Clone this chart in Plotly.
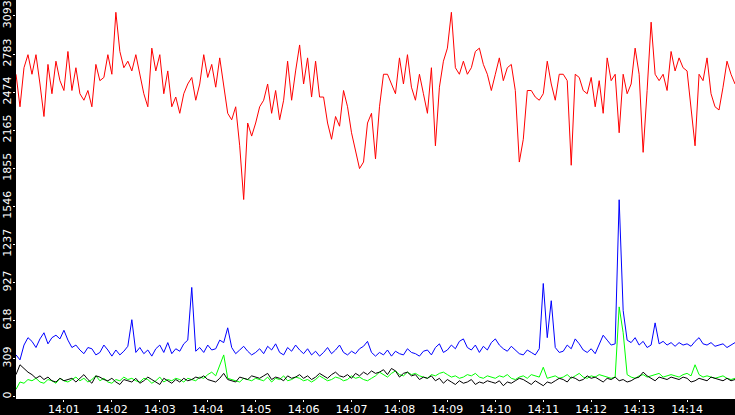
import pandas as pd
import plotly.graph_objects as go

start = "2024-01-01 14:00:00"

red = [2619, 2355, 2672, 2778, 2619, 2778, 2540, 2276, 2699, 2461, 2725, 2567, 2487, 2804, 2487,
       2672, 2461, 2408, 2487, 2355, 2699, 2567, 2593, 2778, 2619, 3122, 2804, 2672, 2725, 2646,
       2778, 2619, 2461, 2355, 2831, 2646, 2778, 2461, 2646, 2355, 2434, 2302, 2461, 2540, 2593,
       2408, 2540, 2778, 2593, 2699, 2514, 2752, 2514, 2302, 2249, 2355, 2038, 1602, 2223, 2117,
       2223, 2355, 2408, 2540, 2302, 2487, 2249, 2408, 2725, 2408, 2646, 2857, 2540, 2752, 2434,
       2725, 2434, 2434, 2223, 2091, 2276, 2197, 2487, 2355, 2144, 1985, 1853, 1906, 2223, 2302,
       1932, 2355, 2619, 2619, 2540, 2461, 2752, 2540, 2778, 2514, 2408, 2619, 2461, 2302, 2672,
       2038, 2514, 2725, 2831, 3122, 2672, 2619, 2725, 2619, 2672, 2804, 2831, 2699, 2619, 2487,
       2619, 2752, 2567, 2672, 2699, 2487, 1906, 2091, 2487, 2487, 2434, 2408, 2461, 2725, 2540,
       2408, 2619, 2619, 2567, 1880, 2619, 2593, 2487, 2461, 2593, 2355, 2567, 2302, 2752, 2567,
       2619, 2144, 2619, 2461, 2540, 2831, 2619, 1985, 2487, 3042, 2619, 2567, 2619, 2487, 2804,
       2646, 2752, 2672, 2646, 2355, 2038, 2619, 2567, 2752, 2461, 2355, 2329, 2514, 2725, 2619, 2540]

blue = [340, 300, 420, 480, 450, 400, 470, 520, 430, 480, 500, 470, 540, 460, 400,
        420, 380, 350, 400, 390, 340, 360, 420, 380, 330, 380, 340, 370, 410, 626,
        360, 400, 350, 380, 330, 390, 420, 360, 440, 350, 390, 370, 430, 460, 888,
        370, 400, 360, 420, 380, 390, 460, 440, 560, 400, 350, 380, 410, 370, 340,
        360, 390, 350, 410, 380, 430, 360, 340, 400, 370, 420, 380, 350, 390, 340,
        370, 330, 360, 400, 350, 380, 420, 360, 340, 370, 350, 390, 410, 450, 360,
        330, 360, 340, 380, 330, 370, 350, 340, 390, 360, 350, 330, 370, 380, 340,
        400, 430, 360, 380, 420, 390, 450, 470, 400, 380, 420, 360, 410, 380, 440,
        470, 420, 390, 370, 410, 380, 350, 340, 380, 360, 340, 390, 920, 480, 780,
        400, 360, 370, 420, 390, 470, 430, 380, 360, 390, 350, 420, 500, 460, 420,
        430, 1600, 700, 460, 440, 480, 420, 450, 400, 420, 600, 430, 450, 420, 440,
        410, 440, 420, 430, 410, 450, 480, 430, 420, 440, 410, 420, 430, 400, 420, 440]

green = [60, 120, 110, 140, 130, 150, 120, 110, 140, 130, 110, 150, 130, 120, 140,
         160, 130, 150, 120, 140, 170, 130, 150, 120, 110, 140, 130, 160, 140, 150,
         130, 120, 150, 140, 110, 130, 160, 120, 140, 130, 150, 140, 120, 150, 140,
         130, 160, 150, 180, 200, 170, 260, 340, 150, 140, 130, 120, 150, 140, 130,
         150, 140, 130, 160, 120, 150, 140, 170, 130, 140, 160, 150, 130, 140, 120,
         140, 170, 150, 130, 140, 160, 150, 130, 140, 170, 150, 160, 140, 130, 150,
         170, 200, 180, 160, 190, 210, 180, 170, 200, 180, 190, 170, 160, 150, 180,
         170, 190, 200, 180, 160, 170, 150, 160, 180, 170, 190, 160, 150, 170, 160,
         150, 170, 160, 180, 150, 140, 160, 170, 150, 180, 170, 160, 240, 150, 160,
         170, 150, 160, 180, 150, 170, 190, 160, 150, 170, 160, 180, 170, 160, 150,
         160, 730, 520, 180, 160, 150, 170, 180, 160, 170, 180, 190, 160, 170, 180,
         170, 160, 180, 190, 170, 260, 180, 160, 170, 160, 150, 160, 170, 150, 140, 150]

black = [180, 260, 230, 200, 180, 150, 170, 140, 160, 130, 120, 150, 130, 140, 150,
         120, 150, 180, 140, 110, 170, 160, 140, 130, 150, 120, 100, 140, 130, 120,
         150, 110, 130, 160, 140, 120, 100, 150, 130, 110, 140, 120, 150, 130, 140,
         160, 150, 170, 140, 130, 120, 150, 190, 140, 130, 120, 160, 150, 140, 170,
         160, 150, 170, 190, 140, 160, 150, 130, 170, 150, 160, 180, 150, 170, 140,
         160, 190, 170, 150, 180, 200, 170, 160, 180, 150, 190, 170, 200, 180, 210,
         190, 200, 220, 180, 230, 210, 160, 190, 200, 170, 180, 140, 160, 150, 170,
         130, 150, 110, 140, 120, 100, 130, 110, 120, 140, 100, 120, 110, 130, 120,
         110, 130, 90, 120, 110, 130, 150, 140, 120, 100, 130, 110, 90, 120, 110,
         130, 150, 140, 120, 160, 150, 130, 140, 170, 150, 160, 140, 120, 150, 140,
         160, 130, 140, 120, 130, 150, 160, 200, 170, 150, 130, 160, 150, 140, 160,
         150, 140, 160, 150, 120, 130, 150, 140, 130, 160, 150, 140, 130, 150, 130, 140]

y_ticks = [0, 309, 618, 927, 1237, 1546, 1855, 2165, 2474, 2783, 3093]
x_ticks = [f"2024-01-01 14:{m:02d}:00" for m in range(1, 15)]

times = pd.date_range(start, periods=len(red), freq="5s")

fig = go.Figure()
for vals, color in [(red, "#ff0000"), (blue, "#0000ff"), (green, "#00ff00"), (black, "#000000")]:
    fig.add_trace(go.Scatter(x=times, y=vals, mode="lines",
                             line=dict(color=color, width=1), hoverinfo="skip"))

fig.update_layout(
    width=735, height=415,
    margin=dict(l=16, r=0, t=0, b=16),
    paper_bgcolor="black", plot_bgcolor="white",
    showlegend=False,
    font=dict(family="DejaVu Sans", size=11, color="white"),
)
fig.update_xaxes(range=[times[0], times[-1]], tickvals=x_ticks, tickformat="%H:%M",
                 showgrid=False, zeroline=False, ticks="outside", tickcolor="white",
                 ticklen=2, tickangle=0, automargin=False, ticklabelstandoff=-2)
fig.update_yaxes(range=[-18, 3222], tickvals=y_ticks, tickangle=-90,
                 showgrid=False, zeroline=False, ticks="outside", tickcolor="white",
                 ticklen=2, automargin=False, ticklabelstandoff=-2,
                 ticklabeloverflow="allow")
fig.write_html("out.html", config={"displayModeBar": False},
               post_script="document.body.style.margin='0';document.body.style.overflow='hidden';")
